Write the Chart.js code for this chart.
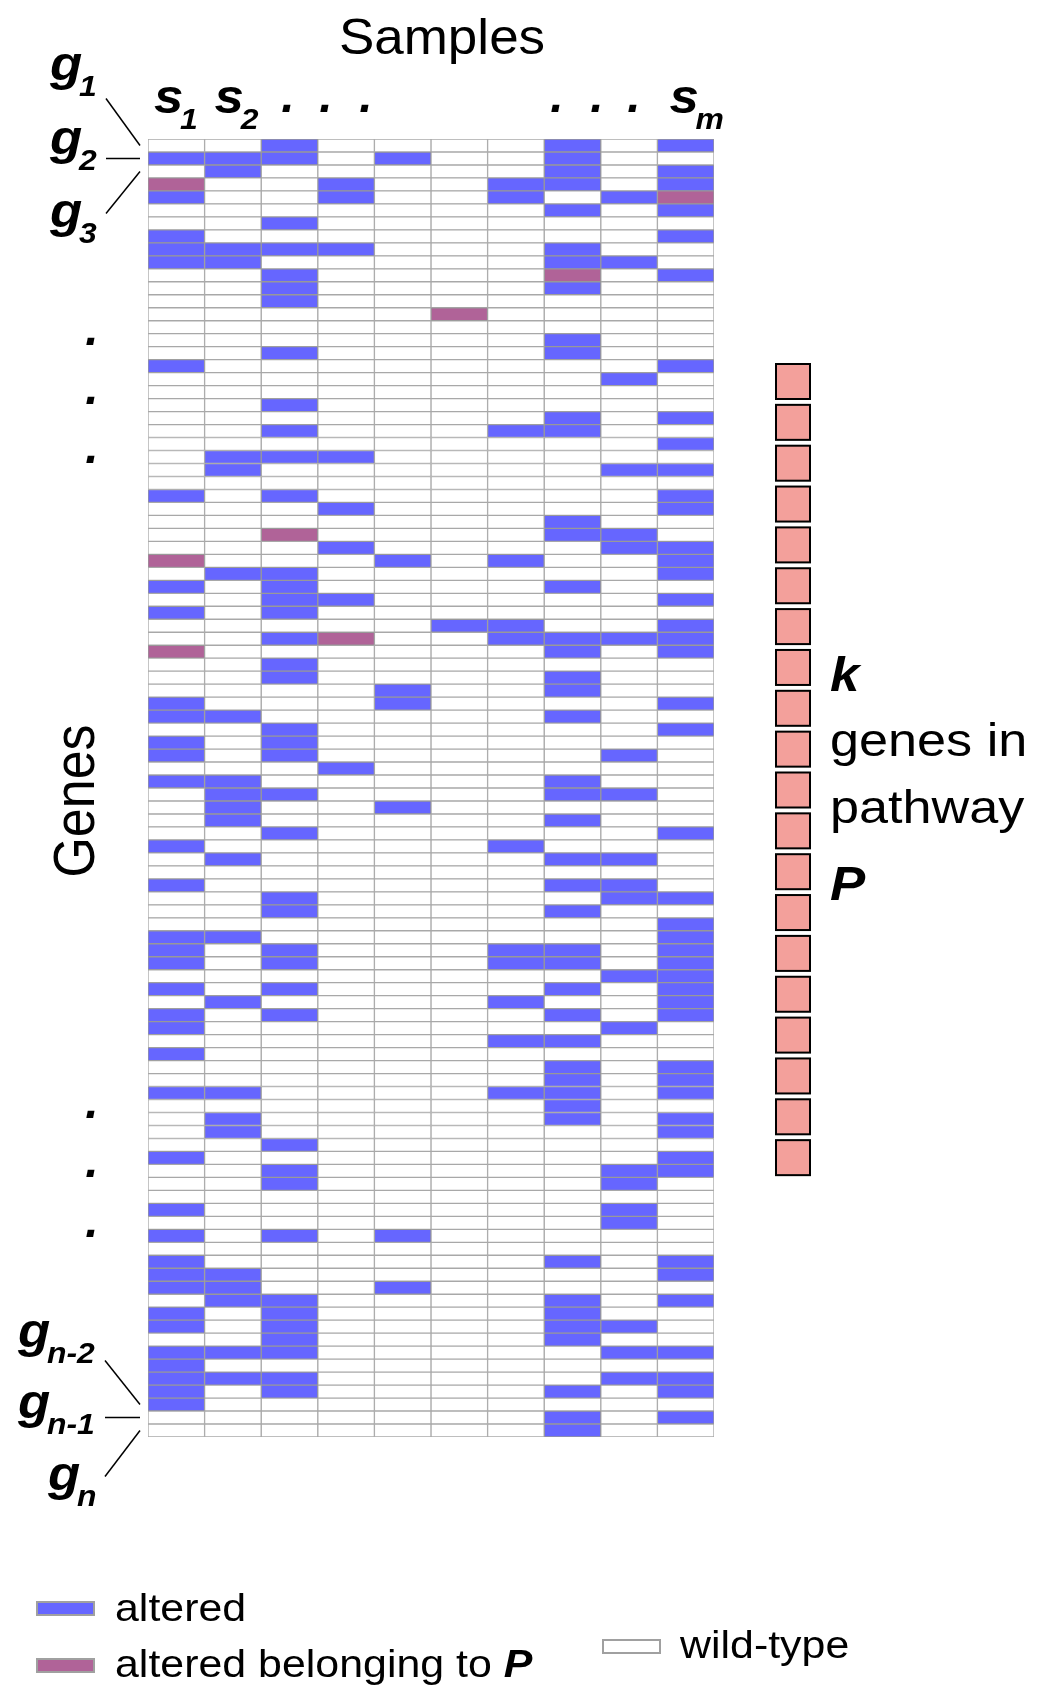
<!DOCTYPE html>
<html>
<head>
<meta charset="utf-8">
<script src="https://cdn.jsdelivr.net/npm/chart.js@4.4.1/dist/chart.umd.min.js"></script>
<style>
  html, body { margin: 0; background: #fff; }
  canvas { display: block; }
</style>
</head>
<body>
<canvas id="chart" width="1040" height="1686"></canvas>
<script>
// ---- data ----
const sampleLabels = ['s1', 's2', 's3', 's4', 's5', 's6', 's7', 's8', 's9', 'sm'];
// one string per gene (row), one digit per sample: 0 wild-type, 1 altered, 2 altered in P
const geneRows = [
  '0010000101', '1110100100', '0100000101', '2001001101', '1001001012',
  '0000000101', '0010000000', '1000000001', '1111000100', '1100000110',
  '0010000201', '0010000100', '0010000000', '0000020000', '0000000000',
  '0000000100', '0010000100', '1000000001', '0000000010', '0000000000',
  '0010000000', '0000000101', '0010001100', '0000000001', '0111000000',
  '0100000011', '0000000000', '1010000001', '0001000001', '0000000100',
  '0020000110', '0001000011', '2000101001', '0110000001', '1010000100',
  '0011000001', '1010000000', '0000011001', '0012001111', '2000000101',
  '0010000000', '0010000100', '0000100100', '1000100001', '1100000100',
  '0010000001', '1010000000', '1010000010', '0001000000', '1100000100',
  '0110000110', '0100100000', '0100000100', '0010000001', '1000001000',
  '0100000110', '0000000000', '1000000110', '0010000011', '0010000100',
  '0000000001', '1100000001', '1010001101', '1010001101', '0000000011',
  '1010000101', '0100001001', '1010000101', '1000000010', '0000001100',
  '1000000000', '0000000101', '0000000101', '1100001101', '0000000100',
  '0100000101', '0100000001', '0010000000', '1000000001', '0010000011',
  '0010000010', '0000000000', '1000000010', '0000000010', '1010100000',
  '0000000000', '1000000101', '1100000001', '1100100000', '0110000101',
  '1010000100', '1010000110', '0010000100', '1110000011', '1000000000',
  '1110000011', '1010000101', '1000000000', '0000000101', '0000000100'
];
const statusNames = ['wild-type', 'altered', 'altered belonging to P'];
const statusColors = ['#ffffff', '#6666ff', '#b06398'];
const pathwayGeneCount = 20;   // k boxes on the right

const geneLabels = geneRows.map((_, i) => 'g' + (i + 1));

// ---- text helpers ----
const FONT = '"Liberation Sans", Arial, sans-serif';

function text(ctx, str, x, y, font, sx, align) {
  ctx.save();
  ctx.translate(x, y);
  ctx.scale(sx || 1, 1);
  ctx.font = font;
  ctx.textAlign = align || 'left';
  ctx.textBaseline = 'alphabetic';
  ctx.fillText(str, 0, 0);
  ctx.restore();
}

function mathLabel(ctx, base, sub, x, y) {
  ctx.save();
  ctx.translate(x, y);
  ctx.scale(1.1, 1);
  ctx.font = 'italic bold 48px ' + FONT;
  ctx.textBaseline = 'alphabetic';
  ctx.fillText(base, 0, 0);
  const w = ctx.measureText(base).width;
  ctx.font = 'italic bold 29px ' + FONT;
  ctx.fillText(sub, w - 3, 16);
  ctx.restore();
}

function line(ctx, x1, y1, x2, y2) {
  ctx.beginPath();
  ctx.moveTo(x1, y1);
  ctx.lineTo(x2, y2);
  ctx.stroke();
}

// ---- decorations drawn around the grid ----
const decorations = {
  id: 'decorations',
  afterDraw(chart) {
    const ctx = chart.ctx;
    const xs = chart.scales.x;
    const ys = chart.scales.y;
    const colLeft = j => xs.getPixelForValue(j);
    const rowMid = i => ys.getPixelForValue(i);
    const n = geneRows.length;

    ctx.save();
    ctx.fillStyle = '#000';
    ctx.strokeStyle = '#000';
    ctx.lineWidth = 1.5;

    // title
    text(ctx, 'Samples', 442, 54, '50px ' + FONT, 1.06, 'center');

    // sample labels
    mathLabel(ctx, 's', '1', colLeft(0) + 6, 113);
    mathLabel(ctx, 's', '2', colLeft(1) + 10, 113);
    mathLabel(ctx, 's', 'm', colLeft(9) + 12, 113);
    [288, 326, 366, 557, 597, 634].forEach(x => text(ctx, '.', x, 112, 'italic bold 48px ' + FONT, 1, 'center'));

    // gene labels with leader lines
    mathLabel(ctx, 'g', '1', 50, 80);
    mathLabel(ctx, 'g', '2', 50, 154);
    mathLabel(ctx, 'g', '3', 50, 227);
    line(ctx, 106, rowMid(0) - 47, 140, rowMid(0));
    line(ctx, 106, rowMid(1), 140, rowMid(1));
    line(ctx, 106, rowMid(2) + 42, 140, rowMid(2));

    [345, 404, 463, 1118, 1177, 1237].forEach(y => text(ctx, '.', 92, y, 'italic bold 48px ' + FONT, 1, 'center'));

    mathLabel(ctx, 'g', 'n-2', 18, 1347);
    mathLabel(ctx, 'g', 'n-1', 18, 1418);
    mathLabel(ctx, 'g', 'n', 48, 1490);
    line(ctx, 105, rowMid(n - 3) - 44, 140, rowMid(n - 3));
    line(ctx, 105, rowMid(n - 2), 140, rowMid(n - 2));
    line(ctx, 105, rowMid(n - 1) + 46, 140, rowMid(n - 1));

    // axis title "Genes"
    ctx.save();
    ctx.translate(94, 801);
    ctx.rotate(-Math.PI / 2);
    ctx.scale(1, 1.12);
    ctx.font = '52px ' + FONT;
    ctx.textAlign = 'center';
    ctx.fillText('Genes', 0, 0);
    ctx.restore();

    // pathway boxes
    ctx.lineWidth = 2;
    for (let i = 0; i < pathwayGeneCount; i++) {
      const top = 364 + i * 40.85;
      ctx.fillStyle = '#f3a09b';
      ctx.fillRect(776, top, 34, 35);
      ctx.strokeRect(776, top, 34, 35);
    }
    ctx.fillStyle = '#000';
    text(ctx, 'k', 830, 691, 'italic bold 48px ' + FONT, 1.1);
    text(ctx, 'genes in', 830, 756, '47px ' + FONT, 1.11);
    text(ctx, 'pathway', 830, 823, '47px ' + FONT, 1.11);
    text(ctx, 'P', 830, 900, 'italic bold 48px ' + FONT, 1.1);

    // legend
    const swatch = (x, y, c) => {
      ctx.fillStyle = c;
      ctx.fillRect(x, y, 57, 13);
      ctx.strokeStyle = '#a0a0a0';
      ctx.lineWidth = 2;
      ctx.strokeRect(x, y, 57, 13);
    };
    swatch(37, 1602, statusColors[1]);
    swatch(37, 1659, statusColors[2]);
    swatch(603, 1640, statusColors[0]);
    ctx.fillStyle = '#000';
    text(ctx, statusNames[1], 115, 1621, '39px ' + FONT, 1.1);
    text(ctx, 'altered belonging to ', 115, 1677, '39px ' + FONT, 1.1);
    ctx.font = '39px ' + FONT;
    const w = ctx.measureText('altered belonging to ').width * 1.1;
    text(ctx, 'P', 115 + w, 1677, 'italic bold 39px ' + FONT, 1.1);
    text(ctx, statusNames[0], 680, 1658, '39px ' + FONT, 1.1);

    ctx.restore();
  }
};

// ---- chart: one stacked horizontal bar per gene, one segment per sample ----
const datasets = sampleLabels.map((s, j) => ({
  label: s,
  data: geneRows.map(() => 1),
  backgroundColor: geneRows.map(r => statusColors[Number(r[j])]),
  borderColor: geneRows.map(r => (r[j] === '0' ? '#a8a8a8' : '#999999')),
  borderWidth: 1,
  borderSkipped: false,
  barPercentage: 1,
  categoryPercentage: 1
}));

new Chart(document.getElementById('chart'), {
  type: 'bar',
  data: { labels: geneLabels, datasets },
  options: {
    indexAxis: 'y',
    responsive: false,
    animation: false,
    devicePixelRatio: 1,
    layout: { padding: { left: 148, right: 326, top: 139, bottom: 249 } },
    scales: {
      x: { stacked: true, min: 0, max: sampleLabels.length, display: false },
      y: { stacked: true, display: false }
    },
    plugins: {
      legend: { display: false },
      tooltip: { enabled: false },
      title: { display: false }
    }
  },
  plugins: [decorations]
});
</script>
</body>
</html>
